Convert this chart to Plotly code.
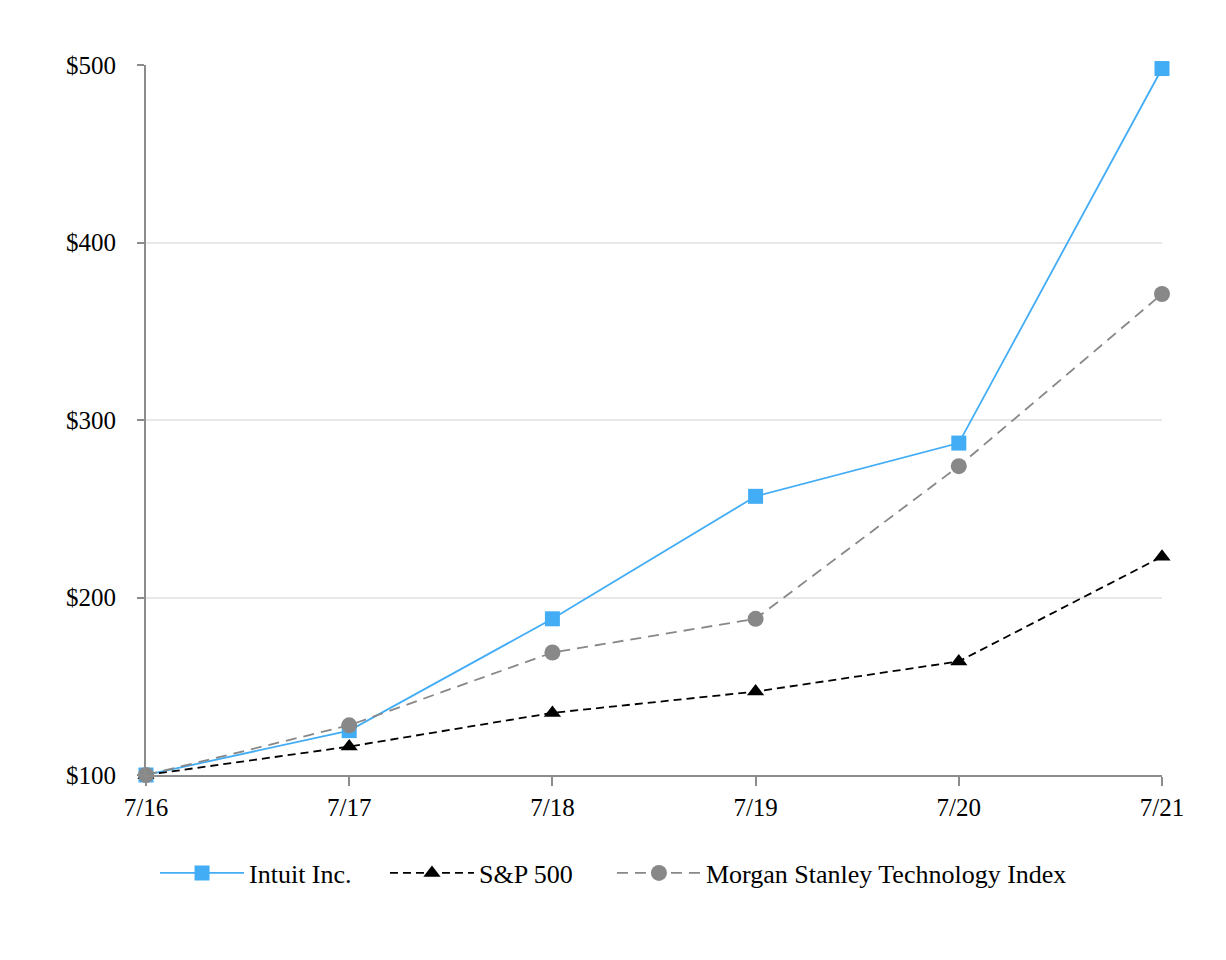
import plotly.graph_objects as go

categories = ["7/16", "7/17", "7/18", "7/19", "7/20", "7/21"]
intuit = [100, 125, 188, 257, 287, 498]
sp500 = [100, 116, 135, 147, 164, 223]
mstech = [100, 128, 169, 188, 274, 371]
y_ticks = [100, 200, 300, 400, 500]
y_labels = ["$100", "$200", "$300", "$400", "$500"]

xs = list(range(len(categories)))
font = "Liberation Serif, Times New Roman, serif"

fig = go.Figure()
fig.add_trace(go.Scatter(x=xs, y=intuit, name="Intuit Inc.", mode="lines+markers",
                         line=dict(color="#42ADF5", width=1.8),
                         marker=dict(symbol="square", size=15, color="#42ADF5"),
                         cliponaxis=False, legend="legend"))
fig.add_trace(go.Scatter(x=xs, y=sp500, name="S&P 500", mode="lines+markers",
                         line=dict(color="#000000", width=1.8, dash="8px,5px"),
                         marker=dict(symbol="triangle-up", size=15, color="#000000"),
                         cliponaxis=False, legend="legend2"))
fig.add_trace(go.Scatter(x=xs, y=mstech, name="Morgan Stanley Technology Index", mode="lines+markers",
                         line=dict(color="#888888", width=1.8, dash="11px,7px"),
                         marker=dict(symbol="circle", size=16, color="#888888"),
                         cliponaxis=False, legend="legend3"))

def leg(x):
    return dict(orientation="h", x=x, xanchor="left", y=-0.138, yanchor="middle",
                font=dict(family=font, size=26), itemwidth=84, bgcolor="rgba(0,0,0,0)")

fig.update_layout(
    width=1226, height=960,
    margin=dict(l=146, r=64, t=65, b=185, autoexpand=False),
    paper_bgcolor="white", plot_bgcolor="white",
    font=dict(family=font, size=25, color="#000000"),
    legend=leg(0.0089),
    legend2=leg(0.2352),
    legend3=leg(0.4586),
    showlegend=True,
)
fig.update_xaxes(range=[0, 5], tickvals=xs, ticktext=categories, tickangle=0,
                 showgrid=False, zeroline=False, showline=True, linecolor="#8c8c8c", linewidth=2,
                 ticks="outside", ticklen=9, tickcolor="#8c8c8c", tickwidth=2,
                 tickfont=dict(family=font, size=25))
fig.update_yaxes(range=[100, 500], tickvals=y_ticks, ticktext=y_labels,
                 showgrid=True, gridcolor="#e8e8e8", gridwidth=2, zeroline=False,
                 showline=True, linecolor="#8c8c8c", linewidth=2,
                 ticks="outside", ticklen=7, tickcolor="#8c8c8c", tickwidth=2,
                 ticklabelstandoff=16,
                 tickfont=dict(family=font, size=25))

fig.write_html("out.html")
